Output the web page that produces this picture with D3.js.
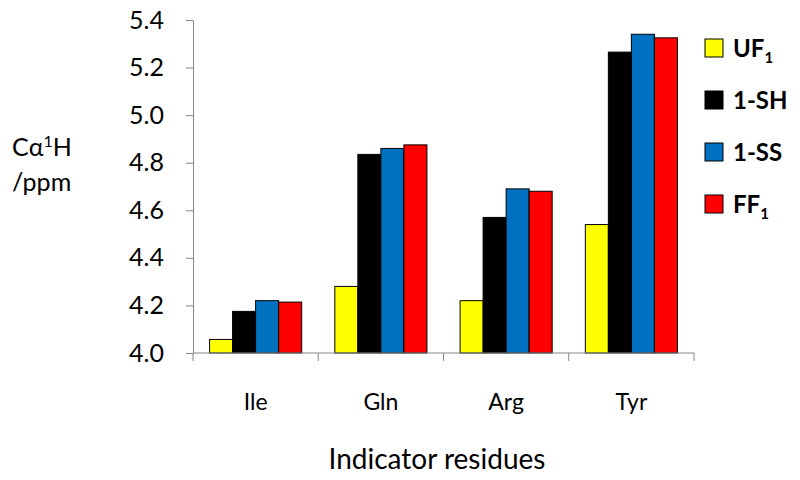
<!DOCTYPE html>
<html><head><meta charset="utf-8">
<script src="https://cdn.jsdelivr.net/npm/d3@7"></script>
<style>body{margin:0;background:#fff}svg{display:block}</style>
</head><body>
<script>
const categories = ["Ile","Gln","Arg","Tyr"];
const seriesNames = ["UF1","1-SH","1-SS","FF1"];
const seriesColors = ["#ffff00","#000000","#0070c0","#ff0000"];
const UF1 = [4.057, 4.28, 4.22, 4.54];
const SH1 = [4.175, 4.835, 4.57, 5.265];
const SS1 = [4.22, 4.86, 4.69, 5.34];
const FF1 = [4.214, 4.875, 4.68, 5.325];
const yTicks = [4.0,4.2,4.4,4.6,4.8,5.0,5.2,5.4];
const values = [UF1, SH1, SS1, FF1];

(function(){
const W=800,H=480;
const svg=d3.select("body").append("svg").attr("width",W).attr("height",H);
const font="Lato, 'Open Sans', sans-serif";
const pl=193,pr=694,pt=20,pb=353;
const x=d3.scaleBand().domain(categories).range([pl,pr]).paddingInner(0).paddingOuter(0);
const x1=d3.scaleBand().domain(seriesNames).range([0,x.bandwidth()]).paddingOuter(0.72).paddingInner(0);
const y=d3.scaleLinear().domain([4.0,5.4]).range([pb,pt]);

const data=categories.map((c,i)=>({c,vals:seriesNames.map((s,j)=>({s,j,v:values[j][i]}))}));
const g=svg.append("g");
g.selectAll("g.grp").data(data).join("g").attr("transform",d=>`translate(${x(d.c)},0)`)
 .selectAll("rect").data(d=>d.vals).join("rect")
 .attr("x",d=>x1(d.s)).attr("width",x1.bandwidth())
 .attr("y",d=>y(d.v)).attr("height",d=>y(4.0)-y(d.v))
 .attr("fill",d=>seriesColors[d.j]).attr("stroke","#000").attr("stroke-width",1);

// y axis
const ya=svg.append("g").attr("transform",`translate(${pl},0)`)
 .call(d3.axisLeft(y).tickValues(yTicks).tickFormat(d3.format(".1f")).tickSize(7).tickSizeOuter(0));
ya.select(".domain").attr("stroke","#868686");
ya.selectAll(".tick line").attr("stroke","#868686");
ya.selectAll("text").attr("font-family",font).attr("font-size",25).attr("fill","#000").attr("x",-29);

// x axis
const xa=svg.append("g").attr("transform",`translate(0,${pb})`);
xa.append("line").attr("x1",pl).attr("x2",pr).attr("y1",0).attr("y2",0).attr("stroke","#868686");
const bounds=categories.map(c=>x(c)).concat([pr]);
xa.selectAll("line.t").data(bounds).join("line").attr("class","t")
 .attr("x1",d=>d).attr("x2",d=>d).attr("y1",0).attr("y2",8).attr("stroke","#868686");
xa.selectAll("text").data(categories).join("text")
 .attr("x",d=>x(d)+x.bandwidth()/2).attr("y",57).attr("text-anchor","middle")
 .attr("font-family",font).attr("font-size",23).attr("fill","#000").text(d=>d);

svg.append("text").attr("x",437).attr("y",469).attr("text-anchor","middle")
 .attr("font-family",font).attr("font-size",28).attr("fill","#000").text("Indicator residues");

const yl=svg.append("text").attr("font-family",font).attr("font-size",25).attr("fill","#000");
yl.append("tspan").attr("x",12).attr("y",156).text("Cα");
yl.append("tspan").attr("font-size",16).attr("dy",-9).text("1");
yl.append("tspan").attr("dy",9).text("H");
svg.append("text").attr("x",12).attr("y",191).attr("font-family",font).attr("font-size",25).attr("fill","#000").text("/ppm");

// legend
const legY=[48,100,152,204];
const lg=svg.append("g").selectAll("g").data(seriesNames).join("g").attr("transform",(d,i)=>`translate(705,${legY[i]})`);
lg.append("rect").attr("x",0).attr("y",-9).attr("width",18).attr("height",18)
 .attr("fill",(d,i)=>seriesColors[i]).attr("stroke","#000").attr("stroke-width",1);
lg.each(function(d){
  const t=d3.select(this).append("text").attr("x",28).attr("y",9).attr("font-family",font)
   .attr("font-size",24).attr("font-weight","bold").attr("fill","#000");
  const m=d.match(/^(UF|FF)(1)$/);
  if(m){t.append("tspan").text(m[1]);t.append("tspan").attr("font-size",15).attr("dy",6).text(m[2]);}
  else t.text(d);
});
})();
</script>
</body></html>
